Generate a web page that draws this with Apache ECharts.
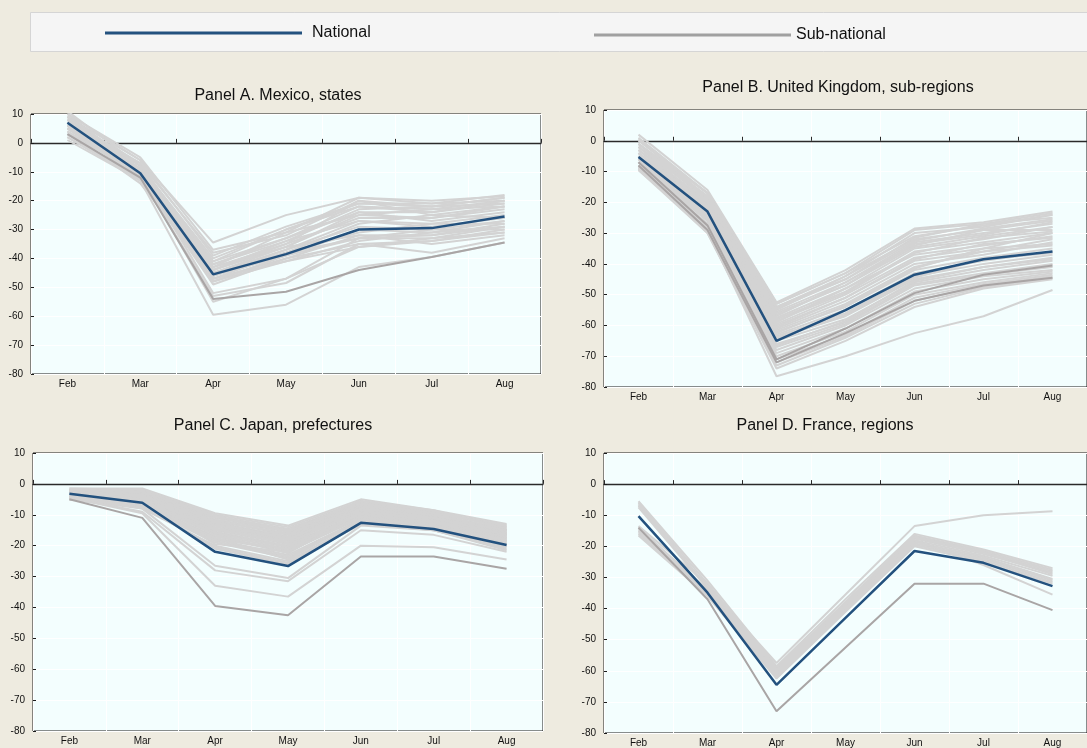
<!DOCTYPE html>
<html>
<head>
<meta charset="utf-8">
<title>Sub-national change by month</title>
<script src="https://cdn.jsdelivr.net/npm/echarts@6/dist/echarts.min.js"></script>
<style>
  html, body { margin: 0; padding: 0; background: #eeebe0; }
  #chart { width: 1087px; height: 748px; }
</style>
</head>
<body>
<div id="chart"></div>
<script>
// Months on the category axis
const months = ['Feb', 'Mar', 'Apr', 'May', 'Jun', 'Jul', 'Aug'];
const yMin = -80, yMax = 10, yStep = 10;

// Panel A. Mexico, states
const mexicoNational = [7, -10.5, -45.5, -38.5, -30, -29.5, -25.5];
const mexicoCapital = [3, -12, -54, -51.5, -44, -39.5, -34.5];
const mexicoStates = [
  [9, -6, -34.5, -25, -19, -21, -18],
  [10, -5, -37, -31, -19, -20, -18.5],
  [8, -7, -38, -32, -20, -22, -19],
  [11, -8, -40, -30, -21, -21, -20],
  [9, -9, -41, -33, -22, -23, -20],
  [7, -8, -42, -34, -23, -22, -21],
  [6, -9, -42, -33, -24, -24, -21],
  [10, -10, -43, -35, -20, -25, -22],
  [8, -11, -43, -36, -25, -23, -22],
  [5, -7, -44, -35, -26, -26, -23],
  [9, -10, -44, -36, -24, -27, -24],
  [7, -12, -45, -37, -27, -28, -25],
  [4, -11, -45, -38, -28, -25, -26],
  [6, -9, -46, -37, -29, -30, -27],
  [8, -13, -46, -39, -30, -31, -27],
  [3, -10, -47, -38, -31, -28, -28],
  [5, -12, -47, -40, -32, -32, -28],
  [7, -11, -48, -39, -33, -33, -29],
  [2, -13, -48, -41, -34, -31, -29],
  [6, -12, -49, -40, -35, -34, -30],
  [4, -14, -46, -38, -33, -30, -30],
  [1, -13, -47, -41, -36, -33, -31],
  [8, -10, -52, -47, -33, -32, -29],
  [5, -12, -53, -48.5, -35, -38, -33],
  [6, -11, -55, -47, -36, -34, -31],
  [3, -13, -59.5, -56, -43, -39.5, -34.5],
  [9, -8, -41, -30, -22, -24, -20],
  [10, -6, -39, -29, -21, -22, -19],
  [2, -12, -44, -34, -27, -29, -26],
  [7, -9, -43, -31, -25, -26, -22],
  [5, -10, -45, -36, -32, -35, -32]
];

// Panel B. United Kingdom, sub-regions
const ukNational = [-5.3, -23, -65, -55, -43.5, -38.5, -36];
const ukLondon = [
  [-7, -27.5, -71, -61, -49.5, -43.5, -40.5],
  [-8, -29, -72, -62.5, -52, -47, -44.5]
];
const ukRegions = [
  [2, -16, -52.5, -42, -28.5, -26.5, -23],
  [1, -17, -53, -43, -29, -27, -23.5],
  [0, -17, -54, -44, -30, -28, -24],
  [-1, -18, -54, -45, -31.5, -27, -25],
  [0.5, -18.5, -55, -44, -32, -29, -26],
  [-2, -19, -55.5, -46, -33, -30, -27],
  [-1, -19, -56, -47, -34.5, -31, -28],
  [-3, -20, -57, -46, -34, -29, -29],
  [-2, -20.5, -57.5, -48, -35, -32, -28],
  [-4, -21, -58, -49, -36, -33, -30],
  [-3, -21, -59, -48, -37, -34, -31],
  [-5, -22, -59.5, -50, -38, -35, -30],
  [-4, -22, -60, -51, -39, -36, -32],
  [-6, -23, -61, -52, -40, -37, -33],
  [-5, -23.5, -61.5, -53, -41, -36, -34],
  [-6, -24, -62, -54, -42, -38, -35],
  [-7, -24, -63, -55, -43, -39, -36],
  [-6, -25, -63.5, -56, -44, -40, -37],
  [-7, -25.5, -64, -57, -45, -41, -38],
  [-8, -26, -65, -58, -46, -42, -39],
  [-7, -26, -66, -59, -46.5, -43, -40],
  [-8, -27, -67, -59.5, -47, -43.5, -41],
  [-9, -27, -68, -60, -48, -44, -42],
  [-8, -28, -69, -61, -49, -45, -42.5],
  [-9, -28.5, -70, -62, -50, -46, -43],
  [-9.5, -29, -71, -63, -51, -46.5, -43.5],
  [-8.5, -29.5, -72, -63.5, -52, -47, -44],
  [-9, -30, -73, -64, -53, -47.5, -44.5],
  [-9.5, -30, -74, -65, -54, -48, -45],
  [-9, -29, -76.5, -70, -62.5, -57, -48.5],
  [-1, -17, -53, -43, -31, -27.5, -24],
  [-2, -18, -54.5, -45, -32.5, -28.5, -25.5],
  [-3, -19.5, -56.5, -47, -33.5, -30.5, -26.5],
  [-4, -20, -58.5, -49.5, -36.5, -31.5, -29.5],
  [-5, -21.5, -60.5, -51, -38.5, -33.5, -31.5],
  [-6, -22.5, -62.5, -53.5, -41.5, -35, -33.5],
  [-7, -24.5, -64.5, -56.5, -44.5, -38.5, -36.5],
  [-8, -25.5, -66.5, -58.5, -45.5, -41, -38.5]
];

// Panel C. Japan, prefectures
const japanNational = [-3.2, -6.1, -22, -26.6, -12.6, -14.6, -19.8];
const japanTokyo = [-5, -11, -39.5, -42.5, -23.5, -23.5, -27.5];
const japanPrefectures = [
  [-1.5, -1.5, -9.5, -13.5, -5, -8.5, -13],
  [-1.5, -2, -10, -14, -5.5, -9, -13.5],
  [-2, -2, -10.5, -14.5, -6, -9, -14],
  [-2, -2.5, -11, -15, -6, -9.5, -14],
  [-2, -3, -11, -15, -6.5, -10, -14.5],
  [-2.5, -2.5, -11.5, -15.5, -7, -10, -15],
  [-2.5, -3, -12, -16, -7, -10.5, -15],
  [-2.5, -3.5, -12, -16.5, -7.5, -10.5, -15.5],
  [-3, -3, -12.5, -17, -7.5, -11, -15.5],
  [-3, -3.5, -13, -17, -8, -11, -16],
  [-3, -4, -13, -17.5, -8, -11.5, -16],
  [-3, -4, -13.5, -18, -8.5, -11.5, -16.5],
  [-3.5, -4.5, -14, -18, -8.5, -12, -16.5],
  [-3.5, -4, -14, -18.5, -9, -12, -17],
  [-3.5, -5, -14.5, -19, -9, -12.5, -17],
  [-4, -5, -15, -19.5, -9.5, -12.5, -17.5],
  [-4, -5.5, -15.5, -20, -10, -13, -17.5],
  [-4, -5, -16, -20, -10, -13, -18],
  [-4, -6, -16, -20.5, -10.5, -13.5, -18],
  [-4.5, -6, -16.5, -21, -10.5, -13.5, -18.5],
  [-4.5, -6.5, -17, -21.5, -11, -14, -18.5],
  [-4.5, -7, -17.5, -22, -11, -14, -19],
  [-4.5, -6.5, -18, -23, -11.5, -14.5, -19],
  [-5, -7, -18.5, -23.5, -12, -14.5, -19.5],
  [-5, -7.5, -19, -24, -12, -15, -20],
  [-5, -8, -20, -25, -12.5, -15, -20.5],
  [-4, -7, -21, -26, -13, -14.5, -20],
  [-2, -3, -12, -19.5, -7, -10, -15],
  [-3, -4, -16.5, -22.5, -9, -12, -16],
  [-2.5, -3.5, -13.5, -17.5, -6.5, -9.5, -13.5],
  [-3.5, -5.5, -15, -16, -8, -11, -15],
  [-4, -6, -18, -21, -9.5, -12.5, -17],
  [-2, -2.5, -10.5, -15.5, -5.5, -8.5, -14.5],
  [-3, -4.5, -14.5, -19, -8.5, -12, -16.5],
  [-4.5, -6.5, -17.5, -24.5, -11.5, -13.5, -19.5],
  [-3.5, -5, -19.5, -22, -10.5, -14, -18],
  [-5, -7.5, -20.5, -25.5, -13, -15, -21],
  [-2.5, -4, -12.5, -18, -8, -11, -16.5],
  [-4, -8, -26.5, -30.5, -13.5, -15, -21.5],
  [-4.5, -9, -28, -31.5, -15, -16.5, -22],
  [-4.5, -9.5, -33, -36.5, -20, -20.5, -24.5]
];

// Panel D. France, regions
const franceNational = [-10.3, -34.9, -64.5, -43, -21.5, -25.3, -32.8];
const franceIdf = [-14, -37, -73, -52.5, -32, -32, -40.5];
const franceRegions = [
  [-5.5, -31, -58.5, -37, -16, -21, -27],
  [-6, -32, -59, -38, -16.5, -21.5, -27.5],
  [-7, -33, -59.5, -38.5, -17, -22, -28],
  [-7.5, -33.5, -60, -39, -17.5, -22.5, -28.5],
  [-14, -34, -60.5, -39.5, -18, -23, -29.5],
  [-15, -34.5, -61, -40, -18.5, -23.5, -30.5],
  [-15.5, -35, -61.5, -40, -19, -24, -31],
  [-16, -35.5, -62, -40.5, -19.5, -24.5, -31.5],
  [-16.5, -36, -62.5, -41, -20, -25, -32],
  [-14.5, -34, -61, -39, -18, -26, -35.5],
  [-13.5, -32, -60, -38, -17, -22, -29],
  [-6.5, -33, -57.5, -35.5, -13.5, -10, -8.7]
];

const NATIONAL_COLOR = '#23517e';
const LIGHT_GREY = '#d3d3d3';
const DARK_GREY = '#a9a5a5';
const AXIS_FONT = "'Liberation Sans', Arial, sans-serif";

// Plot rectangles for the four panels
const panels = [
  { title: 'Panel A. Mexico, states', titleX: 278, titleY: 88,
    grid: { left: 31, top: 114, width: 510, height: 260 },
    national: mexicoNational, light: mexicoStates, dark: [mexicoCapital] },
  { title: 'Panel B. United Kingdom, sub-regions', titleX: 838, titleY: 80,
    grid: { left: 604, top: 110, width: 496, height: 277 },
    national: ukNational, light: ukRegions, dark: ukLondon },
  { title: 'Panel C. Japan, prefectures', titleX: 273, titleY: 418,
    grid: { left: 33, top: 453, width: 510, height: 278 },
    national: japanNational, light: japanPrefectures, dark: [japanTokyo] },
  { title: 'Panel D. France, regions', titleX: 825, titleY: 418,
    grid: { left: 604, top: 453, width: 496, height: 288 },
    national: franceNational, light: franceRegions, dark: [franceIdf] }
];

const grids = [], xAxes = [], yAxes = [], titles = [], series = [];

panels.forEach((p, i) => {
  grids.push(Object.assign({
    show: true, backgroundColor: '#f3fefe', borderColor: '#1a1a1a', borderWidth: 1
  }, p.grid));

  titles.push({
    text: p.title, left: p.titleX, top: p.titleY, textAlign: 'center', padding: 0,
    textStyle: { fontFamily: AXIS_FONT, fontSize: 16, fontWeight: 'normal', color: '#111' }
  });

  // Category axis carrying the month labels along the bottom of the plot
  xAxes.push({
    type: 'category', gridIndex: i, data: months, position: 'bottom',
    axisLine: { show: false, onZero: false },
    axisTick: { show: false },
    axisLabel: { fontFamily: AXIS_FONT, fontSize: 10, color: '#111', margin: 5 },
    splitLine: { show: true, interval: 0, lineStyle: { color: '#ffffff', width: 1 } }
  });
  // Zero line with upward ticks between months
  xAxes.push({
    type: 'category', gridIndex: i, data: months, position: 'bottom',
    axisLine: { show: true, onZero: true, lineStyle: { color: '#2a2a2a', width: 1.3 } },
    axisTick: { show: true, inside: true, length: 4, interval: 0, lineStyle: { color: '#2a2a2a' } },
    axisLabel: { show: false },
    splitLine: { show: false }
  });

  yAxes.push({
    type: 'value', gridIndex: i, min: yMin, max: yMax, interval: yStep,
    axisLine: { show: false, onZero: false },
    axisTick: { show: true, inside: true, length: 3, lineStyle: { color: '#1a1a1a' } },
    axisLabel: { fontFamily: AXIS_FONT, fontSize: 10, color: '#111', margin: 8 },
    splitLine: { show: true, lineStyle: { color: '#ffffff', width: 1 } }
  });

  const base = { type: 'line', xAxisIndex: 2 * i, yAxisIndex: i, symbol: 'none',
                 silent: true, animation: false };

  p.light.forEach(vals => series.push(Object.assign({}, base, {
    name: 'Sub-national', data: vals, z: 2,
    lineStyle: { color: LIGHT_GREY, width: 2 }, itemStyle: { color: LIGHT_GREY }
  })));
  p.dark.forEach(vals => series.push(Object.assign({}, base, {
    name: 'Sub-national', data: vals, z: 3,
    lineStyle: { color: DARK_GREY, width: 2 }, itemStyle: { color: DARK_GREY }
  })));
  series.push(Object.assign({}, base, {
    name: 'National', data: p.national, z: 4,
    lineStyle: { color: NATIONAL_COLOR, width: 2.5 }, itemStyle: { color: NATIONAL_COLOR }
  }));
});

const legendText = { fontFamily: AXIS_FONT, fontSize: 16, color: '#111' };

const chart = echarts.init(document.getElementById('chart'), null, { renderer: 'canvas' });
chart.setOption({
  backgroundColor: '#eeebe0',
  animation: false,
  title: titles,
  graphic: [{
    type: 'rect', z: 0, silent: true,
    shape: { x: 30.5, y: 12.5, width: 1080, height: 39 },
    style: { fill: '#f5f5f5', stroke: '#d5d5d5', lineWidth: 1 }
  }],
  legend: [
    { data: [{ name: 'National', itemStyle: { color: NATIONAL_COLOR } }],
      left: 105, top: 25, padding: 0, icon: 'rect', itemWidth: 197, itemHeight: 3,
      selectedMode: false,
      textStyle: Object.assign({ padding: [0, 0, 0, 5] }, legendText) },
    { data: [{ name: 'Sub-national', itemStyle: { color: '#a0a0a0' } }],
      left: 594, top: 27, padding: 0, icon: 'rect', itemWidth: 197, itemHeight: 3,
      selectedMode: false, itemGap: 0,
      textStyle: Object.assign({ padding: [0, 0, 0, 0] }, legendText) }
  ],
  grid: grids,
  xAxis: xAxes,
  yAxis: yAxes,
  series: series
});
</script>
</body>
</html>
